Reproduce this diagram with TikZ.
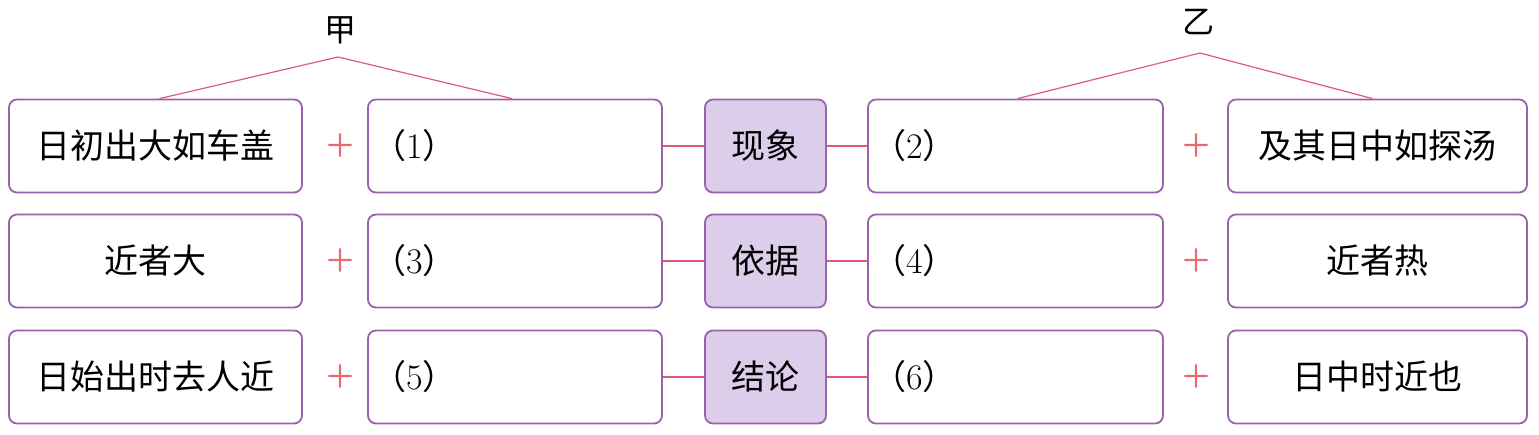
\documentclass[tikz,border=0pt]{standalone}
\usepackage{fontspec}
\newfontfamily\cjk{Noto Sans CJK SC}
\definecolor{boxline}{HTML}{9A62A8}
\definecolor{boxfill}{HTML}{DCCDEA}
\definecolor{linkred}{HTML}{E05872}
\definecolor{plusred}{HTML}{EC6870}
\newcommand{\numlab}[1]{{\cjk （}{\rmfamily\fontsize{36}{40}\selectfont #1}{\cjk ）}}
\begin{document}
\begin{tikzpicture}[x=1pt,y=-1pt,
  box/.style={draw=boxline,line width=1.8pt,rounded corners=8pt,fill=white,
    minimum width=#1,minimum height=93pt,inner sep=0pt,
    font=\cjk\fontsize{34}{40}\selectfont},
  numbox/.style={box=#1,text width=#1-8pt,align=left,inner xsep=4pt},
  midbox/.style={box=121pt,fill=boxfill},
  link/.style={draw=linkred,line width=1.2pt},
  plus/.style={text=plusred,font=\cjk\fontsize{32}{36}\selectfont,inner sep=0pt},
  toplab/.style={font=\cjk\fontsize{32}{36}\selectfont,inner sep=0pt}]
\useasboundingbox (0,0) rectangle (1539,434);

% row 1
\node[box=293pt] (a1) at (155.5,146) {日初出大如车盖};
\node[numbox=294pt] (b1) at (515,146) {\numlab{1}};
\node[midbox] (c1) at (765.5,146) {现象};
\node[numbox=295pt] (d1) at (1015.5,146) {\numlab{2}};
\node[box=299pt] (e1) at (1377.5,146) {及其日中如探汤};
% row 2
\node[box=293pt] (a2) at (155.5,261) {近者大};
\node[numbox=294pt] (b2) at (515,261) {\numlab{3}};
\node[midbox] (c2) at (765.5,261) {依据};
\node[numbox=295pt] (d2) at (1015.5,261) {\numlab{4}};
\node[box=299pt] (e2) at (1377.5,261) {近者热};
% row 3
\node[box=293pt] (a3) at (155.5,377) {日始出时去人近};
\node[numbox=294pt] (b3) at (515,377) {\numlab{5}};
\node[midbox] (c3) at (765.5,377) {结论};
\node[numbox=295pt] (d3) at (1015.5,377) {\numlab{6}};
\node[box=299pt] (e3) at (1377.5,377) {日中时近也};

% plus signs
\foreach \r/\y in {1/146,2/261,3/377}{
  \node[plus] (pl\r) at (340,\y) {＋};
  \node[plus] (pr\r) at (1196,\y) {＋};
}

% connectors
\foreach \r in {1,2,3}{
  \draw[link] (b\r.east) -- (c\r.west);
  \draw[link] (c\r.east) -- (d\r.west);
}

% top labels
\node[toplab] (jia) at (340,30) {甲};
\node[toplab] (yi) at (1198,22) {乙};
\coordinate (jiaApex) at (338,57);
\coordinate (yiApex) at (1200,53);
\draw[link] ([xshift=4pt]a1.north) -- (jiaApex) -- ([xshift=-3pt]b1.north);
\draw[link] ([xshift=2pt]d1.north) -- (yiApex) -- ([xshift=-5pt]e1.north);
\end{tikzpicture}
\end{document}
